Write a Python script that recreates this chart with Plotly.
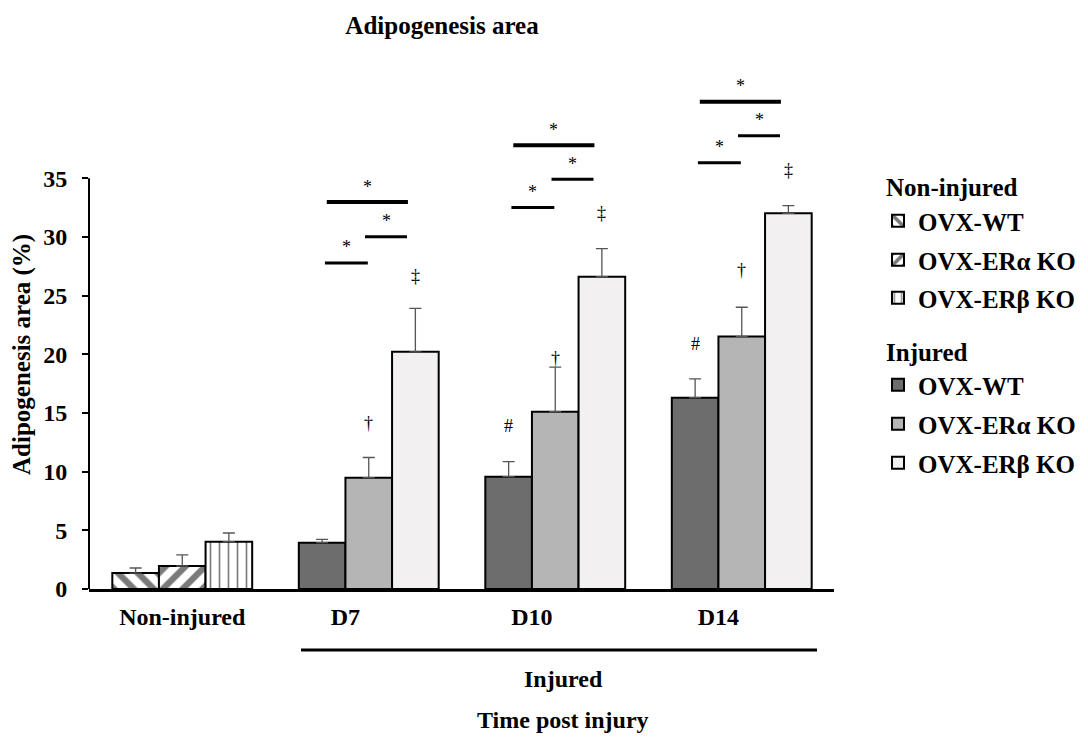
import plotly.graph_objects as go

# ---------------- data ----------------
categories = ["Non-injured", "D7", "D10", "D14"]
groups = ["OVX-WT", "OVX-ERα KO", "OVX-ERβ KO"]

noninj_mean = [1.36, 1.96, 4.03]
noninj_err = [0.43, 0.94, 0.74]

inj_wt_mean = [3.95, 9.57, 16.3]
inj_wt_err = [0.28, 1.28, 1.6]
inj_a_mean = [9.48, 15.1, 21.5]
inj_a_err = [1.72, 3.8, 2.5]
inj_b_mean = [20.2, 26.6, 32.0]
inj_b_err = [3.7, 2.4, 0.65]

# significance marks (height in % units)
hash_y = [None, 13.9, 20.9]
dagger_y = [14.1, 19.7, 27.2]
ddagger_y = [26.7, 32.0, 35.7]
sig_short1 = [27.77, 32.5, 36.3]
sig_short2 = [30.0, 34.9, 38.6]
sig_long = [32.96, 37.8, 41.5]

# ---------------- layout helpers ----------------
bar_pos = [0.5, 1.5, 2.5, 3.5]          # centre of each bar cluster
label_pos = [0.5, 1.375, 2.375, 3.375]  # category label positions
bw = 0.25
offs = [-bw, 0.0, bw]
inj_pos = bar_pos[1:]

SERIF = "Liberation Serif, Times New Roman, serif"
L_PX, R_PX, T_PX, B_PX = 89, 834, 49, 589
W, H = 1088, 740
PW, PH = R_PX - L_PX, B_PX - T_PX
FS = 24


def px_x(p):
    return (p - L_PX) / PW


def px_y(p):
    return (B_PX - p) / PH


fig = go.Figure()

pat_shapes = ["\\", "/", "|"]
pat_size = [14, 14, 9]
pat_sol = [0.45, 0.45, 0.18]
inj_colors = ["#6d6d6d", "#b5b5b5", "#f2f0f1"]
inj_means = [inj_wt_mean, inj_a_mean, inj_b_mean]
inj_errs = [inj_wt_err, inj_a_err, inj_b_err]

legend_names = ["legend", "legend2", "legend3", "legend4", "legend5", "legend6"]

for i in range(3):
    fig.add_trace(go.Bar(
        x=[bar_pos[0] + offs[i]], y=[noninj_mean[i]], width=bw,
        name="<b>%s</b>" % groups[i], legend=legend_names[i], showlegend=True,
        marker=dict(color="white", line=dict(color="black", width=2),
                    pattern=dict(shape=pat_shapes[i], fgcolor="#7a7a7a", bgcolor="white",
                                 size=pat_size[i], solidity=pat_sol[i], fillmode="replace")),
        error_y=dict(type="data", array=[noninj_err[i]], arrayminus=[0], symmetric=False,
                     color="#555555", thickness=1.3, width=6),
    ))

for i in range(3):
    fig.add_trace(go.Bar(
        x=[p + offs[i] for p in inj_pos], y=inj_means[i], width=bw,
        name="<b>%s</b>" % groups[i], legend=legend_names[3 + i], showlegend=True,
        marker=dict(color=inj_colors[i], line=dict(color="black", width=2)),
        error_y=dict(type="data", array=inj_errs[i], arrayminus=[0, 0, 0], symmetric=False,
                     color="#555555", thickness=1.3, width=6),
    ))

# legends, one entry each
item_px = [221, 260, 298, 385, 424, 463]
layout_legends = {}
for k, ln in enumerate(legend_names):
    layout_legends[ln] = dict(
        x=px_x(878), y=px_y(item_px[k]), xanchor="left", yanchor="middle",
        xref="paper", yref="paper", visible=True,
        font=dict(family=SERIF, size=25, color="black"),
        bgcolor="rgba(0,0,0,0)", itemsizing="constant", itemwidth=30,
    )

annotations = []
txt_font = dict(family=SERIF, size=FS, color="black")
leg_font = dict(family=SERIF, size=25, color="black")
# legend headers
annotations.append(dict(text="<b>Non-injured</b>", x=px_x(884), y=px_y(187), xref="paper", yref="paper",
                        xanchor="left", yanchor="middle", showarrow=False, font=leg_font))
annotations.append(dict(text="<b>Injured</b>", x=px_x(884), y=px_y(352), xref="paper", yref="paper",
                        xanchor="left", yanchor="middle", showarrow=False, font=leg_font))
# y title
annotations.append(dict(text="<b>Adipogenesis area (%)</b>", x=px_x(22), y=px_y(355), xref="paper", yref="paper",
                        textangle=-90, showarrow=False, xanchor="center", yanchor="middle",
                        font=dict(family=SERIF, size=25, color="black")))
# injured label & x title
annotations.append(dict(text="<b>Injured</b>", x=px_x(563), y=px_y(679), xref="paper", yref="paper",
                        showarrow=False, xanchor="center", yanchor="middle", font=txt_font))
annotations.append(dict(text="<b>Time post injury</b>", x=px_x(563), y=px_y(720), xref="paper", yref="paper",
                        showarrow=False, xanchor="center", yanchor="middle", font=txt_font))

sym_font = dict(family=SERIF, size=18, color="black")
for j, p in enumerate(inj_pos):
    if hash_y[j] is not None:
        annotations.append(dict(text="#", x=p + offs[0], y=hash_y[j], xref="x", yref="y",
                                showarrow=False, font=sym_font))
    annotations.append(dict(text="†", x=p + offs[1], y=dagger_y[j], xref="x", yref="y",
                            showarrow=False, font=sym_font))
    annotations.append(dict(text="‡", x=p + offs[2], y=ddagger_y[j], xref="x", yref="y",
                            showarrow=False, font=sym_font))

shapes = []
sig_defs = [(sig_short1, -0.235, -0.005, 3), (sig_short2, -0.02, 0.205, 3), (sig_long, -0.225, 0.21, 4)]
for ys, a, b, lw in sig_defs:
    for j, p in enumerate(inj_pos):
        shapes.append(dict(type="line", xref="x", yref="y", x0=p + a, x1=p + b, y0=ys[j], y1=ys[j],
                           line=dict(color="black", width=lw)))
        annotations.append(dict(text="*", x=p + (a + b) / 2, y=ys[j] + 0.3, xref="x", yref="y",
                                yanchor="bottom", showarrow=False, font=dict(family=SERIF, size=18, color="black")))

# y-axis line only to 35
shapes.append(dict(type="line", xref="paper", yref="y", x0=0, x1=0, y0=0, y1=35,
                   line=dict(color="black", width=2)))
# injured underline
shapes.append(dict(type="line", xref="paper", yref="paper", x0=px_x(301), x1=px_x(817),
                   y0=px_y(650), y1=px_y(650), line=dict(color="black", width=3)))

fig.update_layout(
    width=W, height=H, showlegend=True,
    margin=dict(l=L_PX, r=W - R_PX, t=T_PX, b=H - B_PX, autoexpand=False),
    paper_bgcolor="white", plot_bgcolor="white",
    barmode="overlay",
    title=dict(text="<b>Adipogenesis area</b>", x=442 / W, xanchor="center", y=1 - 25 / H, yanchor="middle",
               xref="container", yref="container", font=dict(family=SERIF, size=25, color="black")),
    xaxis=dict(range=[0, PW / 186.5], tickvals=label_pos, ticktext=["<b>%s</b>" % c for c in categories],
               showline=True, linecolor="black", linewidth=3, ticks="", showgrid=False, zeroline=False,
               tickfont=txt_font, ticklabelstandoff=4),
    yaxis=dict(range=[0, 46], tickvals=[0, 5, 10, 15, 20, 25, 30, 35],
               ticktext=["<b>%d</b>" % v for v in [0, 5, 10, 15, 20, 25, 30, 35]],
               showline=False, ticks="outside", ticklen=6, tickcolor="black", tickwidth=1.5,
               showgrid=False, zeroline=False,
               tickfont=dict(family=SERIF, size=24, color="black"), ticklabelstandoff=10),
    annotations=annotations, shapes=shapes,
    **layout_legends,
)

fig.write_html("out.html")
